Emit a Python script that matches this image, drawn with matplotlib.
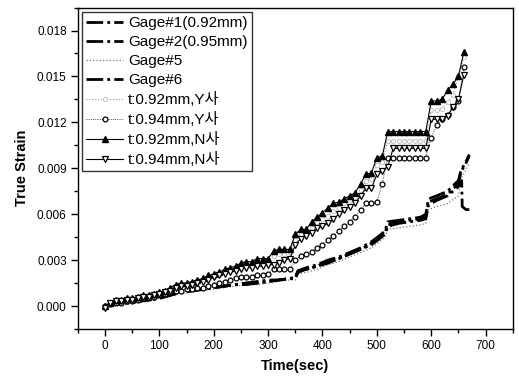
import numpy as np
import matplotlib
matplotlib.use("Agg")
import matplotlib.pyplot as plt
from matplotlib.ticker import MultipleLocator

plt.rcParams['font.family'] = ['Liberation Sans', 'Noto Sans CJK KR', 'DejaVu Sans']

# gage measurements (lines)
gage_t = [0, 20, 40, 60, 80, 100, 120, 140, 160, 180, 200, 220, 240, 260, 280, 300,
          320, 340, 350, 355, 370, 390, 410, 430, 450, 470, 490, 505, 515, 520, 540,
          560, 580, 590, 595, 610, 630, 650, 655, 662, 670]
gage1 = [0.0, 0.0001, 0.0002, 0.0003, 0.0004, 0.0005, 0.0007, 0.0009, 0.0010, 0.0011,
         0.0012, 0.0013, 0.0014, 0.0015, 0.0015, 0.0016, 0.0017, 0.0018, 0.0018, 0.0023,
         0.0024, 0.0026, 0.0029, 0.0031, 0.0034, 0.0037, 0.0041, 0.0045, 0.0048, 0.0053,
         0.0055, 0.0056, 0.0057, 0.0058, 0.0068, 0.0070, 0.0073, 0.0080, 0.0088, 0.0092, 0.0098]
gage2 = [0.0, 0.0001, 0.0002, 0.0003, 0.0004, 0.0006, 0.0008, 0.0009, 0.0010, 0.0011,
         0.0012, 0.0013, 0.0014, 0.0015, 0.0016, 0.0017, 0.0017, 0.0018, 0.0019, 0.0023,
         0.0025, 0.0027, 0.0030, 0.0032, 0.0035, 0.0038, 0.0042, 0.0046, 0.0049, 0.0055,
         0.0056, 0.0057, 0.0058, 0.0060, 0.0070, 0.0072, 0.0075, 0.0082, 0.0089, 0.0093, 0.0099]
gage5 = [0.0, 0.0001, 0.0001, 0.0002, 0.0003, 0.0005, 0.0007, 0.0008, 0.0009, 0.0010,
         0.0011, 0.0012, 0.0013, 0.0014, 0.0014, 0.0015, 0.0016, 0.0017, 0.0017, 0.0021,
         0.0022, 0.0024, 0.0027, 0.0029, 0.0032, 0.0035, 0.0038, 0.0042, 0.0045, 0.0050,
         0.0051, 0.0052, 0.0053, 0.0054, 0.0063, 0.0065, 0.0067, 0.0072, 0.0083, 0.0088, 0.0093]
gage6_t = [0, 20, 40, 60, 80, 100, 120, 140, 160, 180, 200, 220, 240, 260, 280, 300,
           320, 340, 350, 355, 370, 390, 410, 430, 450, 470, 490, 505, 515, 520, 540,
           560, 580, 590, 595, 610, 630, 650, 656, 657, 664, 670]
gage6 = [0.0, 0.0001, 0.0002, 0.0003, 0.0004, 0.0005, 0.0007, 0.0009, 0.0010, 0.0011,
         0.0012, 0.0013, 0.0014, 0.0014, 0.0015, 0.0016, 0.0017, 0.0018, 0.0018, 0.0022,
         0.0024, 0.0026, 0.0028, 0.0031, 0.0034, 0.0037, 0.0040, 0.0044, 0.0047, 0.0052,
         0.0054, 0.0055, 0.0056, 0.0057, 0.0066, 0.0069, 0.0072, 0.0078, 0.0082, 0.0065, 0.0063, 0.0063]

# simulation results (markers), every 10 s
sim_t = list(range(0, 670, 10))
y092 = [0.0, 0.0002, 0.0003, 0.0004, 0.0004, 0.0005, 0.0005, 0.0006, 0.0007, 0.0007,
        0.0008, 0.0009, 0.0011, 0.0013, 0.0014, 0.0014, 0.0015, 0.0016, 0.0017, 0.0018,
        0.0019, 0.0020, 0.0022, 0.0023, 0.0024, 0.0026, 0.0027, 0.0027, 0.0028, 0.0029,
        0.0029, 0.0033, 0.0034, 0.0034, 0.0035, 0.0043, 0.0047, 0.0048, 0.0051, 0.0055,
        0.0057, 0.0059, 0.0062, 0.0064, 0.0067, 0.0069, 0.0071, 0.0076, 0.0082, 0.0083,
        0.0092, 0.0094, 0.0108, 0.0108, 0.0108, 0.0108, 0.0108, 0.0108, 0.0108, 0.0108,
        0.0128, 0.0128, 0.0129, 0.0133, 0.0138, 0.0150, 0.0163]
y094 = [0.0, 0.0001, 0.0002, 0.0002, 0.0003, 0.0003, 0.0004, 0.0005, 0.0005, 0.0006,
        0.0007, 0.0008, 0.0009, 0.0010, 0.0010, 0.0011, 0.0011, 0.0012, 0.0012, 0.0013,
        0.0014, 0.0015, 0.0016, 0.0017, 0.0018, 0.0019, 0.0019, 0.0019, 0.0020, 0.0020,
        0.0021, 0.0024, 0.0024, 0.0024, 0.0024, 0.0030, 0.0033, 0.0034, 0.0035, 0.0038,
        0.0040, 0.0043, 0.0046, 0.0049, 0.0052, 0.0055, 0.0058, 0.0063, 0.0067, 0.0067,
        0.0068, 0.0080, 0.0097, 0.0097, 0.0097, 0.0097, 0.0097, 0.0097, 0.0097, 0.0097,
        0.0110, 0.0118, 0.0122, 0.0125, 0.0130, 0.0134, 0.0156]
n092 = [0.0, 0.0002, 0.0004, 0.0004, 0.0005, 0.0005, 0.0006, 0.0007, 0.0007, 0.0008,
        0.0009, 0.0010, 0.0012, 0.0014, 0.0015, 0.0015, 0.0016, 0.0017, 0.0018, 0.0020,
        0.0021, 0.0022, 0.0024, 0.0025, 0.0026, 0.0028, 0.0029, 0.0029, 0.0031, 0.0031,
        0.0031, 0.0036, 0.0037, 0.0037, 0.0037, 0.0047, 0.0050, 0.0050, 0.0055, 0.0058,
        0.0061, 0.0064, 0.0067, 0.0068, 0.0070, 0.0072, 0.0074, 0.0080, 0.0086, 0.0087,
        0.0097, 0.0098, 0.0114, 0.0114, 0.0114, 0.0114, 0.0114, 0.0114, 0.0114, 0.0114,
        0.0134, 0.0134, 0.0135, 0.0141, 0.0145, 0.0150, 0.0166]
n094 = [-0.0001, 0.0002, 0.0003, 0.0003, 0.0004, 0.0004, 0.0005, 0.0006, 0.0006, 0.0007,
        0.0008, 0.0009, 0.0010, 0.0012, 0.0013, 0.0013, 0.0014, 0.0015, 0.0016, 0.0017,
        0.0019, 0.0020, 0.0021, 0.0022, 0.0023, 0.0024, 0.0025, 0.0025, 0.0026, 0.0026,
        0.0027, 0.0027, 0.0028, 0.0030, 0.0031, 0.0040, 0.0044, 0.0046, 0.0048, 0.0051,
        0.0052, 0.0054, 0.0057, 0.0060, 0.0063, 0.0065, 0.0067, 0.0072, 0.0077, 0.0077,
        0.0086, 0.0088, 0.0091, 0.0103, 0.0103, 0.0103, 0.0103, 0.0103, 0.0103, 0.0103,
        0.0122, 0.0122, 0.0122, 0.0124, 0.0130, 0.0135, 0.0151]

fig = plt.figure(figsize=(5.19, 3.79), dpi=100)
ax = fig.add_axes([0.150, 0.132, 0.838, 0.848])

dd = (6, 1.5, 1, 1.5)
ax.plot(gage_t, gage1, color='black', lw=2.0, dashes=dd, label='Gage#1(0.92mm)')
ax.plot(gage_t, gage2, color='black', lw=2.0, dashes=dd, label='Gage#2(0.95mm)')
ax.plot(gage_t, gage5, color='#777777', lw=0.9, ls=':', label='Gage#5')
ax.plot(gage6_t, gage6, color='black', lw=2.0, dashes=dd, label='Gage#6')

ax.plot(sim_t, y092, color='#999999', lw=0.8, ls=':', marker='o', ms=3,
        mfc='white', mec='#bbbbbb', mew=0.6, label='t:0.92mm,Y사')
ax.plot(sim_t, y094, color='black', lw=0.6, ls=':', marker='o', ms=3.5,
        mfc='white', mec='black', mew=0.9, label='t:0.94mm,Y사')
ax.plot(sim_t, n092, color='black', lw=0.8, marker='^', ms=5,
        mfc='black', mec='black', label='t:0.92mm,N사')
ax.plot(sim_t, n094, color='black', lw=0.8, marker='v', ms=4.5,
        mfc='white', mec='black', mew=0.9, label='t:0.94mm,N사')

ax.set_xlim(-50, 750)
ax.set_ylim(-0.0015, 0.0195)
ax.xaxis.set_major_locator(MultipleLocator(100))
ax.xaxis.set_minor_locator(MultipleLocator(50))
ax.yaxis.set_minor_locator(MultipleLocator(0.0015))
ax.set_yticks(np.arange(0, 0.0181, 0.003))
ax.set_yticklabels(['0.000', '0.003', '0.006', '0.009', '0.012', '0.015', '0.018'])
ax.tick_params(which='major', direction='out', length=5, width=1, labelsize=8.5, pad=3)
ax.tick_params(which='minor', direction='out', length=3, width=1)
ax.tick_params(top=False, right=False)
for s in ax.spines.values():
    s.set_linewidth(1.0)

ax.set_xlabel('Time(sec)', fontsize=10.5, fontweight='bold', labelpad=5)
ax.set_ylabel('True Strain', fontsize=10.5, fontweight='bold', labelpad=6)

leg = ax.legend(loc='upper left', fontsize=11, frameon=True, fancybox=False,
                edgecolor='black', handlelength=2.4, labelspacing=0.33,
                borderaxespad=0.3, handletextpad=0.35, borderpad=0.25)
leg.get_frame().set_linewidth(1.0)

fig.savefig('out.png', dpi=100)
